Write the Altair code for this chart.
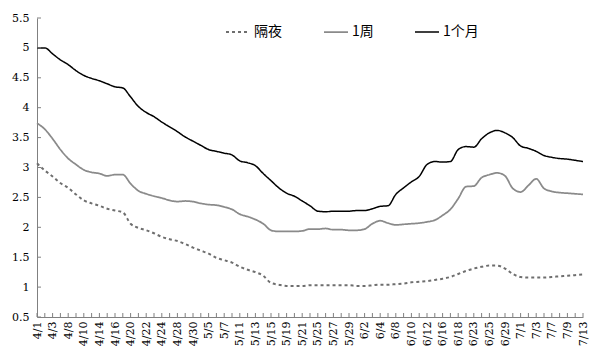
import altair as alt
import pandas as pd

dates = ["4/1","4/2","4/3","4/7","4/8","4/9","4/10","4/13","4/14","4/15","4/16","4/17",
         "4/20","4/21","4/22","4/23","4/24","4/27","4/28","4/29","4/30","5/4","5/5","5/6",
         "5/7","5/8","5/11","5/12","5/13","5/14","5/15","5/18","5/19","5/20","5/21","5/22",
         "5/25","5/26","5/27","5/28","5/29","6/1","6/2","6/3","6/4","6/5","6/8","6/9",
         "6/10","6/11","6/12","6/15","6/16","6/17","6/18","6/19","6/23","6/24","6/25","6/26",
         "6/29","6/30","7/1","7/2","7/3","7/6","7/7","7/8","7/9","7/10","7/13"]

overnight = [3.07,2.95,2.85,2.74,2.66,2.55,2.45,2.40,2.36,2.31,2.28,2.25,
             2.06,1.99,1.95,1.90,1.84,1.80,1.77,1.72,1.66,1.61,1.56,1.49,
             1.45,1.41,1.34,1.29,1.25,1.19,1.07,1.04,1.02,1.02,1.02,1.03,
             1.03,1.03,1.03,1.03,1.03,1.02,1.02,1.03,1.04,1.04,1.05,1.06,
             1.08,1.09,1.10,1.12,1.14,1.17,1.22,1.27,1.31,1.34,1.36,1.36,
             1.31,1.22,1.17,1.16,1.16,1.16,1.17,1.18,1.19,1.20,1.21]

week1 = [3.74,3.64,3.48,3.30,3.15,3.05,2.96,2.92,2.90,2.86,2.88,2.88,
         2.73,2.61,2.56,2.52,2.49,2.45,2.43,2.44,2.43,2.40,2.38,2.37,
         2.34,2.30,2.22,2.18,2.13,2.06,1.95,1.93,1.93,1.93,1.94,1.97,
         1.97,1.98,1.96,1.96,1.95,1.95,1.97,2.06,2.11,2.07,2.04,2.05,
         2.06,2.07,2.09,2.12,2.20,2.30,2.48,2.68,2.69,2.83,2.88,2.91,
         2.86,2.65,2.59,2.70,2.81,2.65,2.60,2.58,2.57,2.56,2.55]

month1 = [5.00,5.00,4.90,4.80,4.72,4.62,4.54,4.49,4.45,4.40,4.35,4.33,
          4.18,4.02,3.92,3.85,3.76,3.68,3.60,3.51,3.44,3.37,3.30,3.27,
          3.24,3.21,3.11,3.08,3.03,2.90,2.78,2.66,2.57,2.52,2.44,2.36,
          2.27,2.26,2.27,2.27,2.27,2.28,2.28,2.31,2.35,2.36,2.55,2.66,
          2.76,2.85,3.05,3.10,3.09,3.10,3.30,3.35,3.34,3.48,3.58,3.62,
          3.58,3.50,3.36,3.32,3.27,3.20,3.17,3.15,3.14,3.12,3.10]

series_names = ["隔夜", "1周", "1个月"]
label_dates = dates[::2]
y_ticks = [0.5, 1, 1.5, 2, 2.5, 3, 3.5, 4, 4.5, 5, 5.5]

rows = []
for name, vals in zip(series_names, [overnight, week1, month1]):
    for d, v in zip(dates, vals):
        rows.append({"date": d, "series": name, "value": v})
df = pd.DataFrame(rows)
df_dates = pd.DataFrame({"date": dates})
df_y = pd.DataFrame({"value": y_ticks})

W, H = 546, 299
LABEL_FONT = "DejaVu Serif"

x_axis = alt.Axis(values=label_dates, labelAngle=270, ticks=False,
                  domainColor="#808080", labelFont=LABEL_FONT,
                  labelFontSize=11, labelColor="#000",
                  labelPadding=4, labelAlign="right",
                  labelBaseline="middle", labelOverlap=False)
y_axis = alt.Axis(values=y_ticks, ticks=False, grid=False,
                  domainColor="#808080", labelFont=LABEL_FONT,
                  labelFontSize=11, labelColor="#000",
                  labelPadding=8, labelOverlap=False, format=".1~f")
x_scale = alt.Scale(type="point", padding=0)
y_scale = alt.Scale(domain=[0.5, 5.5], nice=False, zero=False)

def make_legend():
    return alt.Legend(title=None, orient="none", legendX=188, legendY=1,
                      direction="horizontal", symbolType="stroke",
                      symbolSize=576, labelFont="Noto Sans CJK SC",
                      labelFontSize=14, labelColor="#000",
                      columnPadding=38, labelOffset=3)

lines = alt.Chart(df).mark_line(interpolate="monotone").encode(
    x=alt.X("date:N", sort=dates, title=None, scale=x_scale, axis=x_axis),
    y=alt.Y("value:Q", title=None, scale=y_scale, axis=y_axis),
    color=alt.Color("series:N", sort=series_names,
                    scale=alt.Scale(domain=series_names, range=["#6e6e6e", "#8a8a8a", "#000000"]),
                    legend=make_legend()),
    strokeDash=alt.StrokeDash("series:N", sort=series_names,
                              scale=alt.Scale(domain=series_names, range=[[3, 3], [1, 0], [1, 0]]),
                              legend=make_legend()),
    strokeWidth=alt.StrokeWidth("series:N", sort=series_names,
                                scale=alt.Scale(domain=series_names, range=[2, 1.5, 2.2]),
                                legend=make_legend()),
)

xticks = alt.Chart(df_dates).mark_rule(color="#808080", strokeWidth=1).encode(
    x=alt.X("date:N", sort=dates, title=None, scale=x_scale, axis=x_axis),
    y=alt.value(H - 4),
    y2=alt.value(H),
)

yticks = alt.Chart(df_y).mark_rule(color="#808080", strokeWidth=1).encode(
    y=alt.Y("value:Q", title=None, scale=y_scale, axis=y_axis),
    x=alt.value(0),
    x2=alt.value(4),
)

chart = alt.layer(lines, xticks, yticks).properties(
    width=W, height=H,
    autosize=alt.AutoSizeParams(type="none"),
    padding={"left": 37, "top": 18, "right": 17, "bottom": 36},
    background="white",
).configure_view(stroke=None)

chart.save("out.html", embed_options={"renderer": "svg", "actions": False})
